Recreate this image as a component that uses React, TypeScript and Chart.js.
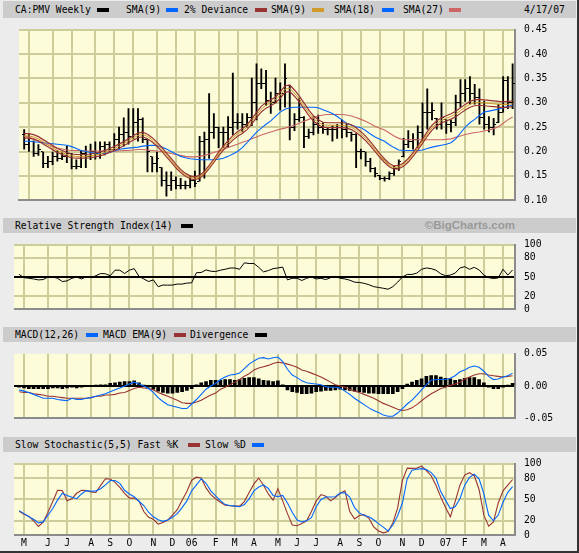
import React, { useEffect, useRef } from 'react';
import { Chart, registerables } from 'chart.js';

Chart.register(...registerables);

// ---------------- data (weekly bars, week of 18 Apr 2005 ... week of 9 Apr 2007) ----------------
const FIRST_WEEK_UTC = Date.UTC(2005, 3, 18);
const FIRST_MONTH = [2005, 4];
const LAST_MONTH = [2007, 3];
const monthLetters = ['J', 'F', 'M', 'A', 'M', 'J', 'J', 'A', 'S', 'O', 'N', 'D'];

const priceHigh = [
  0.245, 0.235, 0.222, 0.214, 0.199, 0.190, 0.199, 0.202, 0.199, 0.211,
  0.196, 0.183, 0.202, 0.211, 0.215, 0.220, 0.220, 0.220, 0.220, 0.237,
  0.250, 0.269, 0.288, 0.288, 0.288, 0.269, 0.224, 0.189, 0.199, 0.167,
  0.158, 0.158, 0.148, 0.145, 0.139, 0.150, 0.160, 0.231, 0.240, 0.319,
  0.278, 0.250, 0.250, 0.272, 0.361, 0.278, 0.278, 0.278, 0.351, 0.380,
  0.370, 0.367, 0.322, 0.351, 0.341, 0.380, 0.335, 0.278, 0.310, 0.272,
  0.246, 0.272, 0.275, 0.259, 0.249, 0.253, 0.256, 0.265, 0.256, 0.240,
  0.237, 0.205, 0.199, 0.186, 0.167, 0.151, 0.148, 0.158, 0.170, 0.183,
  0.227, 0.243, 0.237, 0.253, 0.300, 0.329, 0.300, 0.268, 0.300, 0.265,
  0.265, 0.316, 0.348, 0.348, 0.354, 0.338, 0.329, 0.303, 0.272, 0.268,
  0.297, 0.354, 0.354, 0.380,
];
const priceLow = [
  0.205, 0.200, 0.190, 0.192, 0.167, 0.167, 0.173, 0.180, 0.183, 0.177,
  0.164, 0.164, 0.167, 0.167, 0.183, 0.184, 0.186, 0.193, 0.199, 0.202,
  0.205, 0.211, 0.215, 0.227, 0.221, 0.218, 0.158, 0.158, 0.158, 0.129,
  0.108, 0.120, 0.123, 0.123, 0.123, 0.125, 0.128, 0.139, 0.145, 0.186,
  0.227, 0.208, 0.208, 0.208, 0.234, 0.246, 0.240, 0.250, 0.253, 0.265,
  0.329, 0.294, 0.278, 0.300, 0.285, 0.291, 0.224, 0.243, 0.262, 0.208,
  0.227, 0.234, 0.237, 0.237, 0.234, 0.221, 0.227, 0.228, 0.230, 0.221,
  0.167, 0.185, 0.170, 0.158, 0.148, 0.142, 0.139, 0.142, 0.151, 0.161,
  0.189, 0.208, 0.205, 0.208, 0.221, 0.246, 0.265, 0.246, 0.246, 0.237,
  0.240, 0.253, 0.291, 0.303, 0.297, 0.297, 0.256, 0.246, 0.240, 0.234,
  0.259, 0.281, 0.288, 0.288,
];
const priceOpen = [
  0.235, 0.215, 0.220, 0.195, 0.199, 0.175, 0.180, 0.190, 0.185, 0.190,
  0.195, 0.170, 0.170, 0.195, 0.190, 0.200, 0.195, 0.210, 0.215, 0.205,
  0.225, 0.235, 0.240, 0.230, 0.260, 0.265, 0.224, 0.189, 0.175, 0.167,
  0.140, 0.130, 0.140, 0.130, 0.130, 0.130, 0.140, 0.139, 0.220, 0.225,
  0.240, 0.250, 0.240, 0.240, 0.250, 0.260, 0.260, 0.255, 0.270, 0.300,
  0.340, 0.340, 0.305, 0.300, 0.320, 0.320, 0.335, 0.250, 0.265, 0.270,
  0.230, 0.240, 0.255, 0.250, 0.245, 0.245, 0.245, 0.250, 0.245, 0.240,
  0.235, 0.200, 0.199, 0.180, 0.165, 0.151, 0.145, 0.145, 0.155, 0.165,
  0.189, 0.215, 0.220, 0.225, 0.240, 0.280, 0.280, 0.268, 0.255, 0.265,
  0.255, 0.260, 0.300, 0.320, 0.330, 0.320, 0.310, 0.270, 0.255, 0.250,
  0.259, 0.281, 0.345, 0.300,
];
const priceClose = [
  0.215, 0.220, 0.195, 0.205, 0.175, 0.180, 0.190, 0.185, 0.190, 0.195,
  0.170, 0.170, 0.195, 0.190, 0.200, 0.195, 0.210, 0.215, 0.205, 0.225,
  0.235, 0.240, 0.230, 0.260, 0.265, 0.225, 0.200, 0.175, 0.185, 0.140,
  0.130, 0.140, 0.130, 0.130, 0.130, 0.140, 0.135, 0.220, 0.225, 0.240,
  0.250, 0.240, 0.240, 0.250, 0.260, 0.260, 0.255, 0.270, 0.300, 0.340,
  0.340, 0.305, 0.300, 0.320, 0.320, 0.350, 0.250, 0.265, 0.270, 0.230,
  0.240, 0.255, 0.250, 0.245, 0.245, 0.245, 0.250, 0.245, 0.240, 0.235,
  0.200, 0.200, 0.180, 0.165, 0.155, 0.145, 0.145, 0.155, 0.165, 0.180,
  0.215, 0.220, 0.225, 0.240, 0.280, 0.280, 0.285, 0.255, 0.270, 0.255,
  0.260, 0.300, 0.320, 0.330, 0.320, 0.310, 0.270, 0.255, 0.250, 0.255,
  0.280, 0.345, 0.300, 0.340,
];
const sma9 = [
  0.232, 0.232, 0.230, 0.226, 0.220, 0.214, 0.208, 0.202, 0.198, 0.194,
  0.191, 0.190, 0.190, 0.190, 0.191, 0.193, 0.195, 0.198, 0.202, 0.206,
  0.211, 0.216, 0.222, 0.228, 0.233, 0.235, 0.231, 0.224, 0.215, 0.205,
  0.193, 0.182, 0.170, 0.160, 0.152, 0.147, 0.145, 0.148, 0.156, 0.168,
  0.181, 0.195, 0.207, 0.218, 0.228, 0.236, 0.242, 0.250, 0.262, 0.275,
  0.287, 0.295, 0.300, 0.306, 0.316, 0.328, 0.330, 0.320, 0.308, 0.294,
  0.280, 0.268, 0.260, 0.255, 0.254, 0.254, 0.254, 0.254, 0.253, 0.250,
  0.244, 0.236, 0.227, 0.216, 0.204, 0.192, 0.181, 0.172, 0.167, 0.168,
  0.173, 0.182, 0.194, 0.207, 0.221, 0.236, 0.249, 0.258, 0.264, 0.268,
  0.272, 0.277, 0.284, 0.291, 0.297, 0.300, 0.301, 0.300, 0.299, 0.298,
  0.297, 0.296, 0.297, 0.298,
];
const sma18 = [
  0.221, 0.221, 0.220, 0.219, 0.218, 0.217, 0.216, 0.215, 0.214, 0.213,
  0.210, 0.206, 0.202, 0.200, 0.198, 0.197, 0.196, 0.196, 0.198, 0.201,
  0.204, 0.206, 0.207, 0.208, 0.209, 0.211, 0.212, 0.213, 0.212, 0.209,
  0.205, 0.200, 0.195, 0.190, 0.187, 0.185, 0.184, 0.183, 0.183, 0.183,
  0.183, 0.184, 0.186, 0.190, 0.195, 0.200, 0.208, 0.218, 0.229, 0.240,
  0.248, 0.256, 0.263, 0.272, 0.281, 0.287, 0.290, 0.291, 0.291, 0.291,
  0.291, 0.291, 0.290, 0.286, 0.282, 0.278, 0.272, 0.265, 0.258, 0.254,
  0.251, 0.249, 0.243, 0.236, 0.230, 0.225, 0.221, 0.214, 0.208, 0.203,
  0.202, 0.202, 0.202, 0.202, 0.203, 0.206, 0.209, 0.211, 0.213, 0.215,
  0.218, 0.226, 0.238, 0.250, 0.259, 0.266, 0.274, 0.281, 0.283, 0.285,
  0.287, 0.290, 0.293, 0.295,
];
const sma27 = [
  0.232, 0.229, 0.226, 0.222, 0.218, 0.214, 0.210, 0.207, 0.205, 0.203,
  0.202, 0.202, 0.202, 0.201, 0.201, 0.201, 0.201, 0.201, 0.201, 0.201,
  0.201, 0.202, 0.202, 0.203, 0.204, 0.204, 0.203, 0.202, 0.201, 0.200,
  0.198, 0.196, 0.194, 0.192, 0.190, 0.189, 0.189, 0.190, 0.192, 0.195,
  0.198, 0.201, 0.204, 0.208, 0.212, 0.215, 0.219, 0.222, 0.226, 0.230,
  0.234, 0.237, 0.240, 0.243, 0.246, 0.248, 0.251, 0.254, 0.258, 0.262,
  0.266, 0.270, 0.273, 0.275, 0.276, 0.276, 0.276, 0.276, 0.275, 0.273,
  0.270, 0.266, 0.262, 0.257, 0.252, 0.248, 0.244, 0.238, 0.232, 0.227,
  0.224, 0.224, 0.224, 0.224, 0.224, 0.224, 0.224, 0.224, 0.224, 0.225,
  0.226, 0.229, 0.232, 0.235, 0.237, 0.239, 0.240, 0.242, 0.244, 0.247,
  0.251, 0.258, 0.265, 0.271,
];
const rsi14 = [
  54, 49, 48, 47, 45.5, 46, 50, 50, 48, 43,
  44, 48, 50, 47, 50.5, 49, 52, 55.4, 55, 52,
  60.6, 60.6, 55.4, 60.6, 63, 51, 47, 43, 45.5, 35,
  37.5, 37.3, 37.5, 39, 39, 40.5, 41, 56.7, 57, 61,
  59, 58.5, 60.6, 62, 64, 64, 62, 72, 71, 71,
  65, 58, 60, 63, 64, 65.4, 45.5, 48, 48, 44.6,
  48, 50, 47, 48, 46, 49, 51, 48, 47, 45,
  42, 41.5, 40.2, 38, 35, 33.8, 32.5, 31, 35, 42,
  50, 54, 54, 56, 62, 64, 63, 60.6, 55, 52,
  53, 56, 64, 66, 62, 65, 61, 53, 49, 47.6,
  48.5, 62, 53, 61,
];
const macdLine = [
  -0.006, -0.008, -0.010, -0.013, -0.016, -0.019, -0.019, -0.019, -0.021, -0.022,
  -0.023, -0.019, -0.021, -0.021, -0.019, -0.018, -0.016, -0.014, -0.012, -0.009,
  -0.006, -0.003, 0.000, 0.003, 0.006, 0.003, 0.000, -0.004, -0.010, -0.018,
  -0.024, -0.029, -0.031, -0.033, -0.035, -0.035, -0.028, -0.021, -0.013, -0.005,
  0.000, 0.004, 0.010, 0.014, 0.017, 0.018, 0.020, 0.027, 0.034, 0.039,
  0.043, 0.044, 0.042, 0.044, 0.045, 0.038, 0.026, 0.017, 0.013, 0.008,
  0.005, 0.004, 0.003, 0.002, -0.001, -0.002, -0.002, -0.003, -0.008, -0.013,
  -0.019, -0.024, -0.029, -0.034, -0.038, -0.041, -0.045, -0.047, -0.047, -0.042,
  -0.035, -0.028, -0.022, -0.014, -0.006, 0.002, 0.009, 0.010, 0.010, 0.010,
  0.012, 0.016, 0.022, 0.025, 0.029, 0.031, 0.029, 0.023, 0.015, 0.010,
  0.011, 0.014, 0.016, 0.020,
];
const macdSignal = [
  -0.009, -0.010, -0.010, -0.012, -0.013, -0.014, -0.016, -0.016, -0.017, -0.018,
  -0.019, -0.019, -0.019, -0.019, -0.019, -0.018, -0.016, -0.016, -0.014, -0.014,
  -0.013, -0.011, -0.010, -0.007, -0.004, -0.002, -0.003, -0.004, -0.006, -0.010,
  -0.013, -0.016, -0.019, -0.022, -0.026, -0.027, -0.027, -0.025, -0.022, -0.018,
  -0.014, -0.011, -0.005, -0.002, 0.002, 0.006, 0.010, 0.015, 0.019, 0.025,
  0.028, 0.030, 0.032, 0.035, 0.037, 0.036, 0.034, 0.032, 0.029, 0.025,
  0.023, 0.020, 0.017, 0.014, 0.010, 0.006, 0.002, 0.000, -0.002, -0.005,
  -0.008, -0.010, -0.013, -0.016, -0.019, -0.023, -0.027, -0.030, -0.033, -0.036,
  -0.038, -0.037, -0.034, -0.029, -0.023, -0.017, -0.012, -0.008, -0.004, -0.002,
  0.001, 0.003, 0.006, 0.011, 0.014, 0.017, 0.019, 0.019, 0.017, 0.016,
  0.015, 0.014, 0.015, 0.016,
];
const macdDivergence = [
  -0.002, -0.003, -0.004, -0.004, -0.004, -0.004, -0.004, -0.003, -0.003, -0.004,
  -0.003, -0.002, -0.003, -0.002, 0.000, 0.000, 0.001, 0.002, 0.002, 0.004,
  0.005, 0.006, 0.007, 0.007, 0.008, 0.005, 0.001, -0.002, -0.005, -0.008,
  -0.010, -0.011, -0.011, -0.010, -0.009, -0.007, -0.004, 0.002, 0.005, 0.007,
  0.009, 0.009, 0.009, 0.010, 0.010, 0.009, 0.010, 0.012, 0.013, 0.013,
  0.011, 0.009, 0.008, 0.007, 0.008, 0.002, -0.006, -0.009, -0.010, -0.012,
  -0.012, -0.011, -0.009, -0.008, -0.007, -0.007, -0.006, -0.005, -0.006, -0.007,
  -0.008, -0.009, -0.010, -0.011, -0.011, -0.012, -0.012, -0.012, -0.012, -0.009,
  -0.004, 0.003, 0.006, 0.009, 0.011, 0.015, 0.016, 0.016, 0.014, 0.012,
  0.011, 0.009, 0.010, 0.012, 0.013, 0.013, 0.010, 0.005, -0.002, -0.004,
  -0.004, -0.002, 0.001, 0.004,
];
const stochK = [
  33.3, 29, 26.5, 20, 12, 18, 32, 47, 62.8, 62.4,
  48, 51, 58.6, 62.8, 62.4, 60.6, 59.8, 69.7, 79, 78.6,
  74, 67, 58.6, 51.8, 51.8, 47.9, 33, 24.8, 22, 15.4,
  17.5, 21, 28, 35.5, 48.7, 61, 77, 81.2, 80, 66.2,
  56.8, 51, 46, 41.9, 41, 40.6, 40.6, 47, 59.8, 71.8,
  80, 70, 57.7, 49, 65, 48, 30, 14, 13, 16,
  20, 33, 48, 56.8, 54.3, 48, 52.6, 58.6, 62, 33,
  22.6, 27.4, 28.6, 23.5, 11.5, 5.6, 3, 5, 17, 38,
  77, 94, 93.6, 94, 96.9, 90.6, 83.3, 70, 53.4, 38.5,
  25.6, 47, 70, 84.2, 87.6, 83.3, 64, 27.8, 12.4, 18.4,
  45, 62, 70, 78,
];
const stochD = [
  34.2, 30, 25.6, 22, 17, 18.4, 27.8, 37.2, 49, 58.6,
  55.6, 53, 51, 57.7, 62.4, 61.5, 62, 65, 70.5, 76.5,
  76.5, 72.6, 62.8, 57.7, 53.8, 47.4, 41.4, 32, 25.6, 21.4,
  19.2, 21, 24.8, 30, 38.5, 47.9, 62, 70.5, 79, 72.6,
  62, 55, 48.3, 42.7, 41.5, 40.6, 39.7, 42.7, 50.8, 62,
  67.5, 70.5, 65.4, 55.6, 54, 55.6, 44.9, 32, 21, 18.4,
  20, 24.4, 39.7, 50, 53.4, 53.4, 53.8, 59, 59.4, 53.4,
  38.5, 31, 27.4, 25.6, 21.4, 16, 11, 5.6, 14, 27,
  44.9, 79, 91, 92.3, 93.2, 91.9, 87.6, 80, 61, 49,
  37.2, 39.7, 51, 70, 81, 85.5, 79, 57.7, 27.8, 20,
  28, 46, 60, 68,
];

const priceTicks = [0.1, 0.15, 0.2, 0.25, 0.3, 0.35, 0.4, 0.45];
const rsiTicks = [0, 20, 50, 80, 100];
const macdTicks = [-0.05, 0, 0.05];
const stochTicks = [0, 20, 50, 80, 100];

// ---------------- styling ----------------
const MONO = "'DejaVu Sans Mono', 'Liberation Mono', monospace";
const FONT_SIZE = 9.7;
const GRID = '#cdcd9b';
const PLOT_BG = '#fcfcd9';
const DARK_RED = '#993333';
const ORANGE = '#d09a2c';
const BLUE = '#0066ff';
const PINK = '#cc6666';
const EDGE = '#8c8c8c';
const CANVAS_W = 565;
const AXIS_W = 64;
const X_MIN = -1.09;
const X_MAX = 103.5;

function buildMonthTicks() {
  const out: { k: number; label: string }[] = [];
  let y = FIRST_MONTH[0];
  let m = FIRST_MONTH[1];
  while (y < LAST_MONTH[0] || (y === LAST_MONTH[0] && m <= LAST_MONTH[1])) {
    const d = Date.UTC(y, m, 1);
    const dow = new Date(d).getUTCDay();
    const monday = d - ((dow + 6) % 7) * 86400000;
    const k = Math.round((monday - FIRST_WEEK_UTC) / (7 * 86400000));
    out.push({ k, label: m === 0 ? String(y % 100).padStart(2, '0') : monthLetters[m] });
    m++;
    if (m > 11) { m = 0; y++; }
  }
  return out;
}
const MONTH_TICKS = buildMonthTicks();

const bgPlugin = {
  id: 'plotBg',
  beforeDraw(chart: any) {
    const a = chart.chartArea;
    const c = chart.ctx;
    c.save();
    c.fillStyle = PLOT_BG;
    c.fillRect(a.left, a.top, a.right - a.left, a.bottom - a.top);
    c.restore();
  },
};

const pts = (arr: number[]) => arr.map((v, k) => ({ x: k, y: v }));
const line = (arr: number[], color: string, width: number, order: number) => ({
  type: 'line', data: pts(arr), borderColor: color, borderWidth: width,
  pointRadius: 0, tension: 0, fill: false, order,
});

function xScale(showLabels: boolean) {
  return {
    type: 'linear', min: X_MIN, max: X_MAX, offset: false,
    afterBuildTicks: (s: any) => { s.ticks = MONTH_TICKS.map((t) => ({ value: t.k })); },
    afterFit: (s: any) => { s.height = showLabels ? 16 : 0; },
    ticks: {
      display: showLabels, autoSkip: false, maxRotation: 0, minRotation: 0, padding: 3,
      color: '#000', font: { family: MONO, size: FONT_SIZE },
      callback: (_v: any, i: number) => (MONTH_TICKS[i] ? MONTH_TICKS[i].label : ''),
    },
    grid: { color: GRID, lineWidth: 2, drawTicks: false, offset: false },
    border: { display: true, color: EDGE, width: 2 },
  };
}

function yScale(min: number, max: number, ticks: number[], fmt: (v: number) => string,
  gColor: (v: number) => string, gWidth: (v: number) => number) {
  return {
    type: 'linear', position: 'right', min, max,
    afterBuildTicks: (s: any) => { s.ticks = ticks.map((v) => ({ value: v })); },
    afterFit: (s: any) => { s.width = AXIS_W; },
    ticks: {
      padding: 9, autoSkip: false, color: '#000', font: { family: MONO, size: FONT_SIZE },
      callback: (v: any) => fmt(Number(v)),
    },
    grid: {
      drawTicks: false,
      color: (c: any) => gColor(c.tick ? c.tick.value : NaN),
      lineWidth: (c: any) => gWidth(c.tick ? c.tick.value : NaN),
    },
    border: { display: true, color: EDGE, width: 2 },
  };
}

function baseOptions(y: any, showX: boolean) {
  return {
    responsive: false, animation: false, devicePixelRatio: 1, events: [],
    layout: { padding: { top: 8, bottom: showX ? 0 : 8, left: 0, right: 0 } },
    plugins: { legend: { display: false }, tooltip: { enabled: false } },
    scales: { x: xScale(showX), y },
  };
}

function tickImage(side: 'left' | 'right') {
  const c = document.createElement('canvas');
  c.width = 5; c.height = 1;
  const g = c.getContext('2d')!;
  g.fillStyle = '#000';
  g.fillRect(side === 'left' ? 0 : 3, 0, 2, 1);
  return c;
}

const mainConfig = () => ({
  type: 'line',
  data: {
    datasets: [
      { type: 'bar', data: priceHigh.map((h, k) => ({ x: k, y: [priceLow[k], h] })), backgroundColor: '#000', barThickness: 1.2, order: 9 },
      { type: 'line', data: pts(priceOpen), showLine: false, pointStyle: tickImage('left'), pointRadius: 1, order: 8 },
      { type: 'line', data: pts(priceClose), showLine: false, pointStyle: tickImage('right'), pointRadius: 1, order: 8 },
      line(sma27, PINK, 1.1, 5),
      line(sma18, BLUE, 1.1, 4),
      line(sma9.map((v) => v * 1.02), DARK_RED, 1.2, 3),
      line(sma9.map((v) => v * 0.98), DARK_RED, 1.2, 3),
      line(sma9, ORANGE, 1, 2),
    ],
  },
  options: baseOptions(yScale(0.1, 0.45, priceTicks, (v) => v.toFixed(2), () => GRID, () => 2), false),
  plugins: [bgPlugin],
});

const rsiConfig = () => ({
  type: 'line',
  data: { datasets: [line(rsi14, '#000', 1, 1)] },
  options: baseOptions(yScale(0, 100, rsiTicks, (v) => String(v),
    (v) => (v === 50 ? '#000' : GRID), () => 2), false),
  plugins: [bgPlugin],
});

const macdConfig = () => ({
  type: 'line',
  data: {
    datasets: [
      { type: 'bar', data: pts(macdDivergence), backgroundColor: '#000', barThickness: 3, order: 5 },
      line(macdSignal, DARK_RED, 1.1, 2),
      line(macdLine, BLUE, 1.1, 1),
    ],
  },
  options: baseOptions(yScale(-0.05, 0.05, macdTicks, (v) => v.toFixed(2),
    (v) => (Math.abs(v) < 1e-9 ? '#000' : 'rgba(0,0,0,0)'), () => 2), false),
  plugins: [bgPlugin],
});

const stochConfig = () => ({
  type: 'line',
  data: { datasets: [line(stochK, DARK_RED, 1.1, 2), line(stochD, BLUE, 1.1, 1)] },
  options: baseOptions(yScale(0, 100, stochTicks, (v) => String(v), () => GRID, () => 2), true),
  plugins: [bgPlugin],
});

function Panel({ top, height, make }: { top: number; height: number; make: () => any }) {
  const ref = useRef<HTMLCanvasElement>(null);
  useEffect(() => {
    const chart = new Chart(ref.current as HTMLCanvasElement, make());
    return () => chart.destroy();
  }, []);
  return (
    <canvas ref={ref} width={CANVAS_W} height={height}
      style={{ position: 'absolute', left: 14, top, width: CANVAS_W, height }} />
  );
}

type Item = { x: number; text?: string; swatch?: string };
function Header({ top, height, items, children }: { top: number; height: number; items: Item[]; children?: any }) {
  return (
    <div style={{ position: 'absolute', left: 3, top, width: 573, height, background: '#cccccc' }}>
      {items.map((it, i) =>
        it.swatch ? (
          <div key={i} style={{ position: 'absolute', left: it.x - 3, top: Math.round(height / 2) - 2, width: 12, height: 4, background: it.swatch }} />
        ) : (
          <span key={i} style={{ position: 'absolute', left: it.x - 3, top: 0, lineHeight: height + 'px', whiteSpace: 'pre' }}>{it.text}</span>
        ))}
      {children}
    </div>
  );
}

export default function App() {
  return (
    <div style={{ position: 'fixed', left: 0, top: 0, width: 579, height: 553, background: '#ececec', overflow: 'hidden', fontFamily: MONO, fontSize: FONT_SIZE, color: '#000' }}>
      <Header top={1} height={17} items={[
        { x: 15, text: 'CA:PMV Weekly' }, { x: 97, swatch: '#000' },
        { x: 126, text: 'SMA(9)' }, { x: 166, swatch: BLUE },
        { x: 184, text: '2% Deviance' }, { x: 255, swatch: DARK_RED },
        { x: 271, text: 'SMA(9)' }, { x: 312, swatch: ORANGE },
        { x: 334, text: 'SMA(18)' }, { x: 382, swatch: BLUE },
        { x: 403, text: 'SMA(27)' }, { x: 449, swatch: PINK },
        { x: 524, text: '4/17/07' },
      ]} />
      <Header top={218} height={15} items={[
        { x: 15, text: 'Relative Strength Index(14)' }, { x: 181, swatch: '#000' },
      ]}>
        <span style={{ position: 'absolute', right: 61, top: 0, lineHeight: '15px', fontFamily: "'Liberation Sans', Arial, sans-serif", fontWeight: 'bold', fontSize: 11.5, color: '#999999' }}>©BigCharts.com</span>
      </Header>
      <Header top={327} height={15} items={[
        { x: 15, text: 'MACD(12,26)' }, { x: 86, swatch: BLUE },
        { x: 103, text: 'MACD EMA(9)' }, { x: 174, swatch: DARK_RED },
        { x: 190, text: 'Divergence' }, { x: 255, swatch: '#000' },
      ]} />
      <Header top={437} height={15} items={[
        { x: 15, text: 'Slow Stochastic(5,5) Fast %K' }, { x: 188, swatch: DARK_RED },
        { x: 205, text: 'Slow %D' }, { x: 252, swatch: BLUE },
      ]} />
      <Panel top={15} height={200} make={mainConfig} />
      <Panel top={230} height={94} make={rsiConfig} />
      <Panel top={339} height={94} make={macdConfig} />
      <Panel top={449} height={102} make={stochConfig} />
      <div style={{ position: 'absolute', right: 0, top: 0, width: 2, height: 553, background: '#333' }} />
      <div style={{ position: 'absolute', left: 0, bottom: 0, width: 579, height: 2, background: '#333' }} />
    </div>
  );
}
